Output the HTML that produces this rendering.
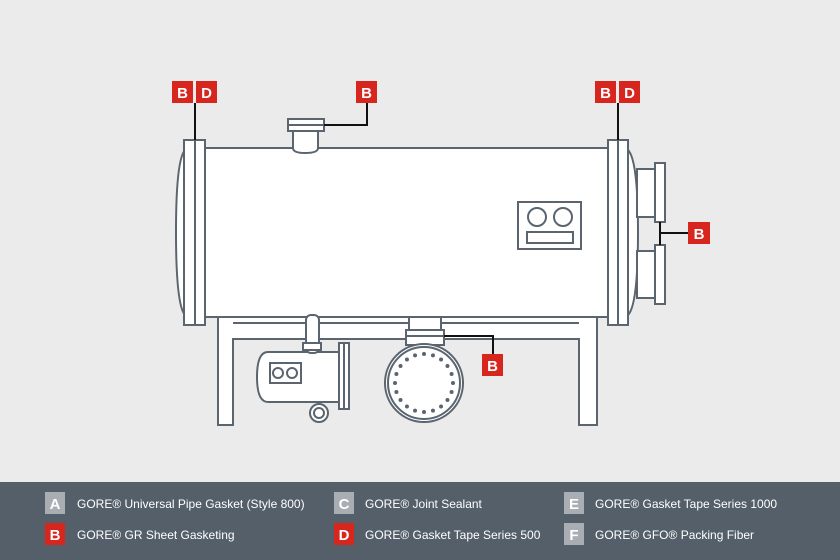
<!DOCTYPE html>
<html><head><meta charset="utf-8"><style>
body{margin:0;width:840px;height:560px;background:#ebebeb;font-family:"Liberation Sans",sans-serif;overflow:hidden}
</style></head><body>
<svg width="840" height="560" xmlns="http://www.w3.org/2000/svg" style="position:absolute;left:0;top:0">
<rect width="840" height="560" fill="#ebebeb"/>
<g fill="#fff" stroke="#5b6570" stroke-width="2">
<path d="M218 317 V425 H233 V339 H579 V425 H597 V317 Z"/>
<line x1="233" y1="323" x2="579" y2="323"/>
<path d="M185 150 Q176 160 176 232 Q176 305 185 315"/>
<path d="M628 150 Q638 160 638 232 Q638 305 628 315"/>
<rect x="205" y="148" width="403" height="169"/>
<rect x="184" y="140" width="21" height="185"/>
<line x1="195" y1="140" x2="195" y2="325"/>
<rect x="608" y="140" width="20" height="185"/>
<line x1="618" y1="140" x2="618" y2="325"/>
<rect x="637" y="169" width="18" height="48"/>
<rect x="655" y="163" width="10" height="59"/>
<rect x="637" y="251" width="18" height="47"/>
<rect x="655" y="245" width="10" height="59"/>
<rect x="518" y="202" width="63" height="47"/>
<circle cx="537" cy="217" r="9"/><circle cx="563" cy="217" r="9"/>
<rect x="527" y="232" width="46" height="11"/>
<path d="M293 131 V148 Q293 153 305 153 Q318 153 318 148 V131"/>
<rect x="288" y="119" width="36" height="12"/>
<line x1="288" y1="125" x2="324" y2="125"/>
<rect x="409" y="317" width="32" height="13"/>
<rect x="406" y="330" width="38" height="15"/>
<line x1="406" y1="336" x2="444" y2="336"/>
<circle cx="424" cy="383" r="39"/>
<circle cx="424" cy="383" r="36"/>
<path d="M268 352 H339 V402 H268 Q257 402 257 377 Q257 352 268 352 Z"/>
<rect x="306" y="315" width="13" height="38" rx="5"/>
<rect x="303" y="343" width="18" height="7"/>
<rect x="270" y="363" width="31" height="20"/>
<circle cx="278" cy="373" r="5"/><circle cx="292" cy="373" r="5"/>
<rect x="339" y="343" width="10" height="66"/>
<line x1="344" y1="343" x2="344" y2="409"/>
<circle cx="319" cy="413" r="9"/><circle cx="319" cy="413" r="5"/>
</g>
<g fill="#5b6570" id="dots"></g>
<g stroke="#111" stroke-width="2" fill="none">
<line x1="195" y1="103" x2="195" y2="140"/>
<line x1="618" y1="103" x2="618" y2="140"/>
<polyline points="324,125 367,125 367,103"/>
<polyline points="660,222 660,245"/>
<line x1="660" y1="233" x2="688" y2="233"/>
<polyline points="444,336 493,336 493,354"/>
</g>
<g font-family="Liberation Sans" font-weight="bold" font-size="15" fill="#fff" text-anchor="middle">
<rect x="172" y="81" width="21" height="22" fill="#d7261e"/><text x="182.5" y="98">B</text>
<rect x="196" y="81" width="21" height="22" fill="#d7261e"/><text x="206.5" y="98">D</text>
<rect x="356" y="81" width="21" height="22" fill="#d7261e"/><text x="366.5" y="98">B</text>
<rect x="595" y="81" width="21" height="22" fill="#d7261e"/><text x="605.5" y="98">B</text>
<rect x="619" y="81" width="21" height="22" fill="#d7261e"/><text x="629.5" y="98">D</text>
<rect x="688" y="222" width="22" height="22" fill="#d7261e"/><text x="699" y="239">B</text>
<rect x="482" y="354" width="21" height="22" fill="#d7261e"/><text x="492.5" y="371">B</text>
</g>
<rect x="0" y="482" width="840" height="78" fill="#555f6a"/>
<g font-family="Liberation Sans" font-size="12" fill="#fff">
<g text-anchor="middle" font-weight="bold" font-size="15">
<rect x="45" y="492" width="20" height="22" fill="#a8aeb4"/><text x="55" y="509">A</text>
<rect x="45" y="523" width="20" height="22" fill="#d7261e"/><text x="55" y="540">B</text>
<rect x="334" y="492" width="20" height="22" fill="#a8aeb4"/><text x="344" y="509">C</text>
<rect x="334" y="523" width="20" height="22" fill="#d7261e"/><text x="344" y="540">D</text>
<rect x="564" y="492" width="20" height="22" fill="#a8aeb4"/><text x="574" y="509">E</text>
<rect x="564" y="523" width="20" height="22" fill="#a8aeb4"/><text x="574" y="540">F</text>
</g>
<text x="77" y="508">GORE® Universal Pipe Gasket (Style 800)</text>
<text x="77" y="539">GORE® GR Sheet Gasketing</text>
<text x="365" y="508">GORE® Joint Sealant</text>
<text x="365" y="539">GORE® Gasket Tape Series 500</text>
<text x="595" y="508">GORE® Gasket Tape Series 1000</text>
<text x="595" y="539">GORE® GFO® Packing Fiber</text>
</g>
</svg>
<script>
var g=document.getElementById('dots');
for(var i=0;i<20;i++){var a=i*Math.PI*2/20;var c=document.createElementNS('http://www.w3.org/2000/svg','circle');
c.setAttribute('cx',424+29*Math.cos(a));c.setAttribute('cy',383+29*Math.sin(a));c.setAttribute('r',2);g.appendChild(c);}
</script>
</body></html>
